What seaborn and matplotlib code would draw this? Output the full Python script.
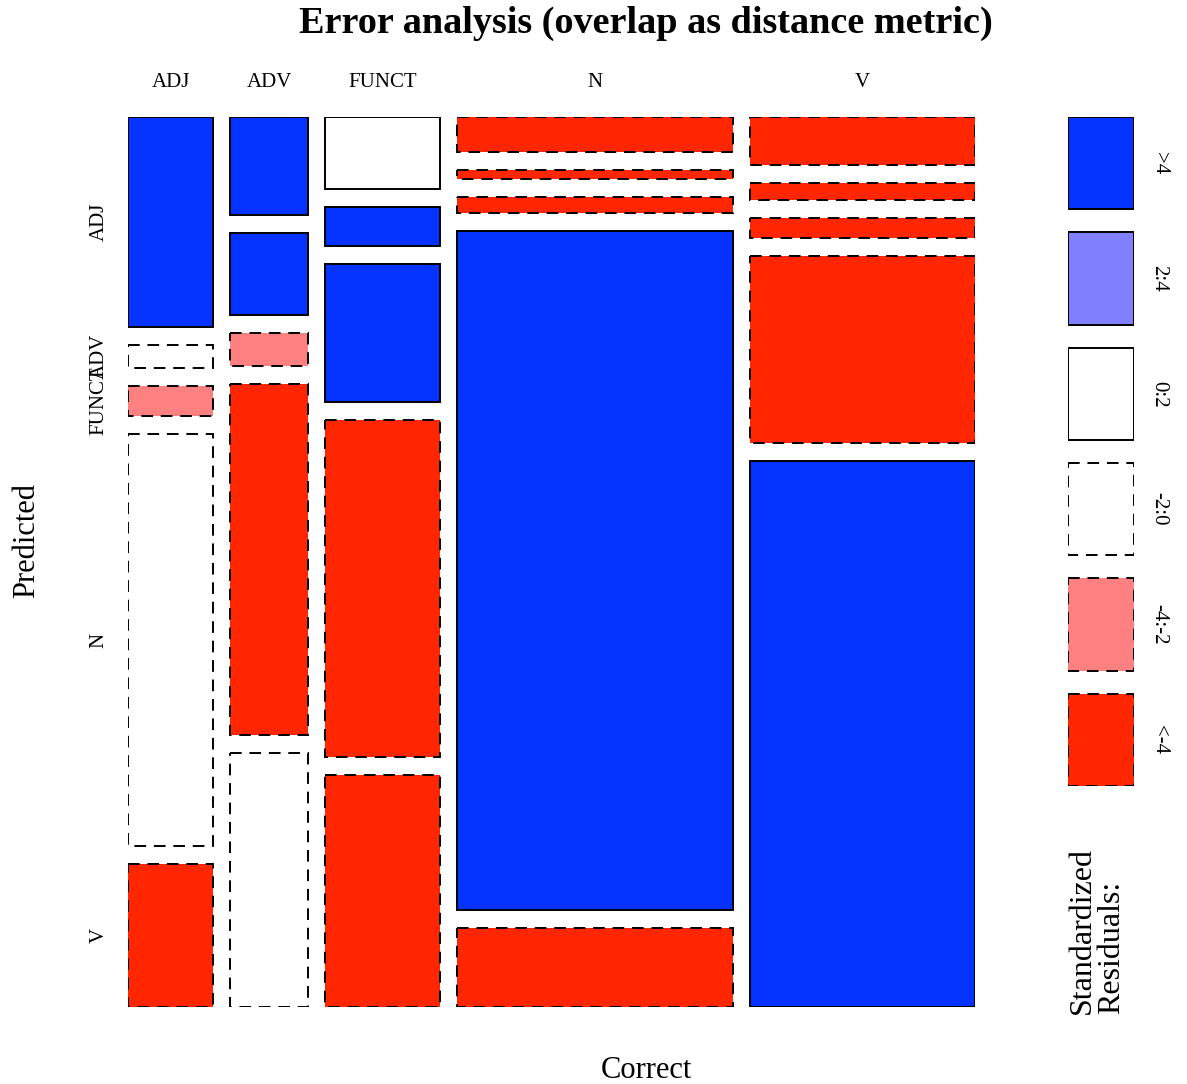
import numpy as np
import matplotlib
matplotlib.use("Agg")
import matplotlib.pyplot as plt
from matplotlib.patches import Rectangle
import seaborn as sns

# Categories (rows = predicted, columns = correct)
correct = ['ADJ', 'ADV', 'FUNCT', 'N', 'V']
predicted = ['ADJ', 'ADV', 'FUNCT', 'N', 'V']

# Counts estimated from the tile areas
counts = np.array([
    [28, 12, 13, 15, 17],
    [3, 10, 7, 4, 6],
    [4, 4, 25, 7, 7],
    [55, 43, 61, 293, 66],
    [19, 31, 42, 34, 193],
])

# Shading class of each tile's standardized residual
resid_class = [
    ['>4', '>4', '0:2', '<-4', '<-4'],
    ['-2:0', '>4', '>4', '<-4', '<-4'],
    ['-4:-2', '-4:-2', '>4', '<-4', '<-4'],
    ['-2:0', '<-4', '<-4', '>4', '<-4'],
    ['<-4', '-2:0', '<-4', '<-4', '>4'],
]
legend_labels = ['>4', '2:4', '0:2', '-2:0', '-4:-2', '<-4']

shade = {
    '>4': '#0433FF',
    '2:4': '#8080FF',
    '0:2': '#FFFFFF',
    '-2:0': '#FFFFFF',
    '-4:-2': '#FF8080',
    '<-4': '#FF2600',
}
dash = (0, (6, 4))

sns.set_style("white")
plt.rcParams['font.family'] = ['Liberation Serif', 'DejaVu Serif']
plt.rcParams['text.color'] = 'black'
plt.rcParams['xtick.color'] = 'black'
plt.rcParams['ytick.color'] = 'black'

W, H = 1187, 1084
fig = plt.figure(figsize=(W / 100, H / 100), dpi=100)

# main mosaic axes
x0, x1, y0, y1 = 128, 975, 117, 1007
ax = fig.add_axes([x0 / W, 1 - y1 / H, (x1 - x0) / W, (y1 - y0) / H])
ax.set_xlim(0, 1)
ax.set_ylim(1, 0)
for s in ax.spines.values():
    s.set_visible(False)

gap_x = 17 / (x1 - x0)
gap_y = 18 / (y1 - y0)
col_tot = counts.sum(axis=0)
widths = col_tot / col_tot.sum() * (1 - gap_x * (len(correct) - 1))

xc = []
first_col_centers = []
xpos = 0
for j in range(len(correct)):
    w = widths[j]
    xc.append(xpos + w / 2)
    heights = counts[:, j] / col_tot[j] * (1 - gap_y * (len(predicted) - 1))
    ypos = 0
    for i in range(len(predicted)):
        h = heights[i]
        cls = resid_class[i][j]
        neg = cls.startswith('-') or cls.startswith('<')
        ax.add_patch(Rectangle((xpos, ypos), w, h, facecolor=shade[cls],
                               edgecolor='black', lw=1.4,
                               linestyle=dash if neg else '-'))
        if j == 0:
            first_col_centers.append(ypos + h / 2)
        ypos += h + gap_y
    xpos += w + gap_x

ax.xaxis.tick_top()
ax.set_xticks(xc)
ax.set_xticklabels(correct, fontsize=15)
ax.tick_params(axis='x', length=0, pad=18)
ax.set_yticks(first_col_centers)
ax.set_yticklabels(predicted, fontsize=15, rotation=90, va='center')
ax.tick_params(axis='y', length=0, pad=14)

fig.text(646 / W, 1 - 23 / H, 'Error analysis (overlap as distance metric)',
         ha='center', va='center', fontsize=27.5, fontweight='bold')
fig.text(646 / W, 1 - 1070 / H, 'Correct', ha='center', va='center',
         fontsize=22)
fig.text(27 / W, 1 - 540 / H, 'Predicted', ha='center', va='center',
         rotation=90, fontsize=22)

# legend axes
lx0, lx1, ly0, ly1 = 1068, 1134, 117, 786
lax = fig.add_axes([lx0 / W, 1 - ly1 / H, (lx1 - lx0) / W, (ly1 - ly0) / H])
lax.set_xlim(0, 1)
lax.set_ylim(1, 0)
lax.axis('off')
n = len(legend_labels)
lgap = 23 / (ly1 - ly0)
bh = (1 - lgap * (n - 1)) / n
for k, lab in enumerate(legend_labels):
    yb = k * (bh + lgap)
    neg = lab.startswith('-') or lab.startswith('<')
    lax.add_patch(Rectangle((0, yb), 1, bh, facecolor=shade[lab],
                            edgecolor='black', lw=1.4,
                            linestyle=dash if neg else '-'))
    lax.text(1.38, yb + bh / 2, lab, rotation=-90, ha='center', va='center',
             fontsize=15)

fig.text(1097 / W, 1 - 930 / H, 'Standardized\nResiduals:', rotation=90,
         ha='center', va='center', multialignment='left', fontsize=23,
         linespacing=1.05)

fig.savefig('out.png', dpi=100)
